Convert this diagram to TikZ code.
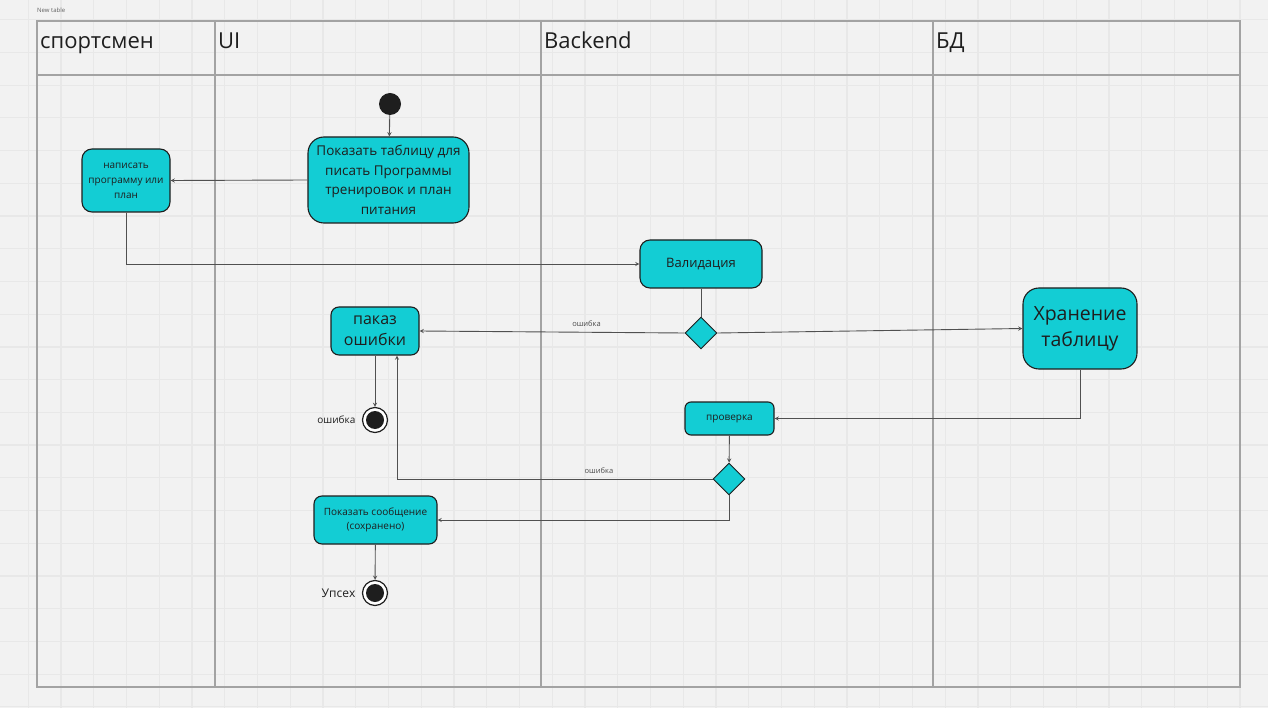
\documentclass[tikz,border=0pt]{standalone}
\usepackage{fontspec}
\setmainfont{Open Sans}
\usepackage{tikz}
\usetikzlibrary{shapes,arrows}
\usetikzlibrary{shapes.geometric}
\usetikzlibrary{calc}

\newcommand{\fs}[2]{\fontsize{#1}{#2}\selectfont}

\begin{document}
\begin{tikzpicture}[x=1pt,y=-1pt,>=stealth]
  % Colors
  \definecolor{paper}{HTML}{F2F2F2}
  \definecolor{gridc}{HTML}{E8E8E8}
  \definecolor{lane}{HTML}{A3A3A3}
  \definecolor{act}{HTML}{13CDD4}
  \definecolor{ink}{HTML}{1E1E1E}
  \definecolor{wire}{HTML}{505050}
  % Styles
  \tikzstyle{action}=[draw=ink,fill=act,line width=1.1pt,align=center,inner sep=0pt,text=ink]
  \tikzstyle{decision}=[diamond,draw=ink,fill=act,line width=0.9pt,minimum size=32pt,inner sep=0pt,aspect=1]
  \tikzstyle{startdot}=[circle,fill=ink,minimum size=22pt,inner sep=0pt]
  \tikzstyle{enddot}=[circle,draw=ink,fill=white,line width=1.2pt,minimum size=25pt,inner sep=0pt,
    path picture={\fill[ink] (path picture bounding box.center) circle (9pt);}]
  \tikzstyle{flow}=[->,draw=wire,line width=0.9pt]
  \tikzstyle{lanehead}=[anchor=base west,inner sep=0pt,text=ink]
  \tikzstyle{guard}=[above=4pt,inner sep=1pt,text=ink!80,font=\fs{7.5}{9}]

  % Paper and grid
  \useasboundingbox (0,0) rectangle (1268,708);
  \fill[paper] (0,0) rectangle (1268,708);
  \foreach \i in {0,...,38}
    \draw[gridc,line width=1.2pt] ({28.3+32.75*(\i-1)},0) -- ++(0,708);
  \foreach \j in {0,...,22}
    \draw[gridc,line width=1.2pt] (0,{19.7+32.72*(\j-1)}) -- ++(1268,0);

  % The table
  \node[anchor=base west,inner sep=0pt,text=ink!70,font=\fs{6}{7}] (title) at (37,13) {New table};
  \draw[lane,line width=1.2pt] (37,21) rectangle (1240,687);
  \draw[lane,line width=1.2pt] (37,75) -- (1240,75);
  \foreach \x in {215,541,933}
    \draw[lane,line width=1.2pt] (\x,21) -- (\x,687);
  \node[lanehead,font=\fs{22}{26}] (h1) at (40,49) {спортсмен};
  \node[lanehead,font=\fs{22}{26}] (h2) at (218,49) {UI};
  \node[lanehead,font=\fs{22}{26}] (h3) at (544,49) {Backend};
  \node[lanehead,font=\fs{22}{26}] (h4) at (936,49) {БД};

  % Activities
  \node[startdot] (start) at (390,104) {};
  \node[action,rounded corners=16pt,minimum width=161pt,minimum height=86pt,font=\fs{13.5}{19.5}]
    (show) at (388.5,180) {Показать таблицу для\\писать Программы\\тренировок и план\\питания};
  \node[action,rounded corners=10pt,minimum width=88pt,minimum height=63pt,font=\fs{10}{15}]
    (write) at (126,180.5) {написать\\программу или\\план};
  \node[action,rounded corners=10pt,minimum width=122pt,minimum height=48pt,font=\fs{13}{16}]
    (valid) at (701,264) {Валидация};
  \node[decision] (dec1) at (701,333) {};
  \node[action,rounded corners=8pt,minimum width=88pt,minimum height=48pt,font=\fs{16}{21}]
    (err) at (375,331) {паказ\\ошибки};
  \node[action,rounded corners=16pt,minimum width=114pt,minimum height=81pt,font=\fs{19.5}{26}]
    (store) at (1080,328.5) {Хранение\\таблицу};
  \node[action,rounded corners=6pt,minimum width=89pt,minimum height=33pt,font=\fs{10}{12}]
    (check) at (729.5,418.5) {проверка};
  \node[decision] (dec2) at (729,479) {};
  \node[action,rounded corners=8pt,minimum width=123pt,minimum height=48pt,font=\fs{10}{14}]
    (msg) at (375.5,520) {Показать сообщение\\(сохранено)};
  \node[enddot,label={[text=ink,font=\fs{10}{12},label distance=3pt]left:ошибка}] (end1) at (375,420) {};
  \node[enddot,label={[text=ink,font=\fs{12}{14},label distance=3pt]left:Упсех}] (end2) at (375,593) {};

  % Flows
  \draw[flow] (start) -- (show);
  \draw[flow] (show.west) -- (write.east);
  \draw[flow] (write.south) |- (valid.west);
  \draw[draw=wire,line width=0.9pt] (valid.south) -- (dec1.north);
  \draw[flow] (dec1.west) -- node[guard,pos=0.37] {ошибка} (err.east);
  \draw[flow] (dec1.east) -- (store.west);
  \draw[flow] (store.south) |- (check.east);
  \draw[flow] (check) -- (dec2);
  \draw[flow] (dec2.west) -| node[guard,pos=0.18] {ошибка} ([xshift=22pt]err.south);
  \draw[flow] (dec2.south) |- (msg.east);
  \draw[flow] (err.south) -- (end1);
  \draw[flow] (msg) -- (end2);
\end{tikzpicture}
\end{document}
